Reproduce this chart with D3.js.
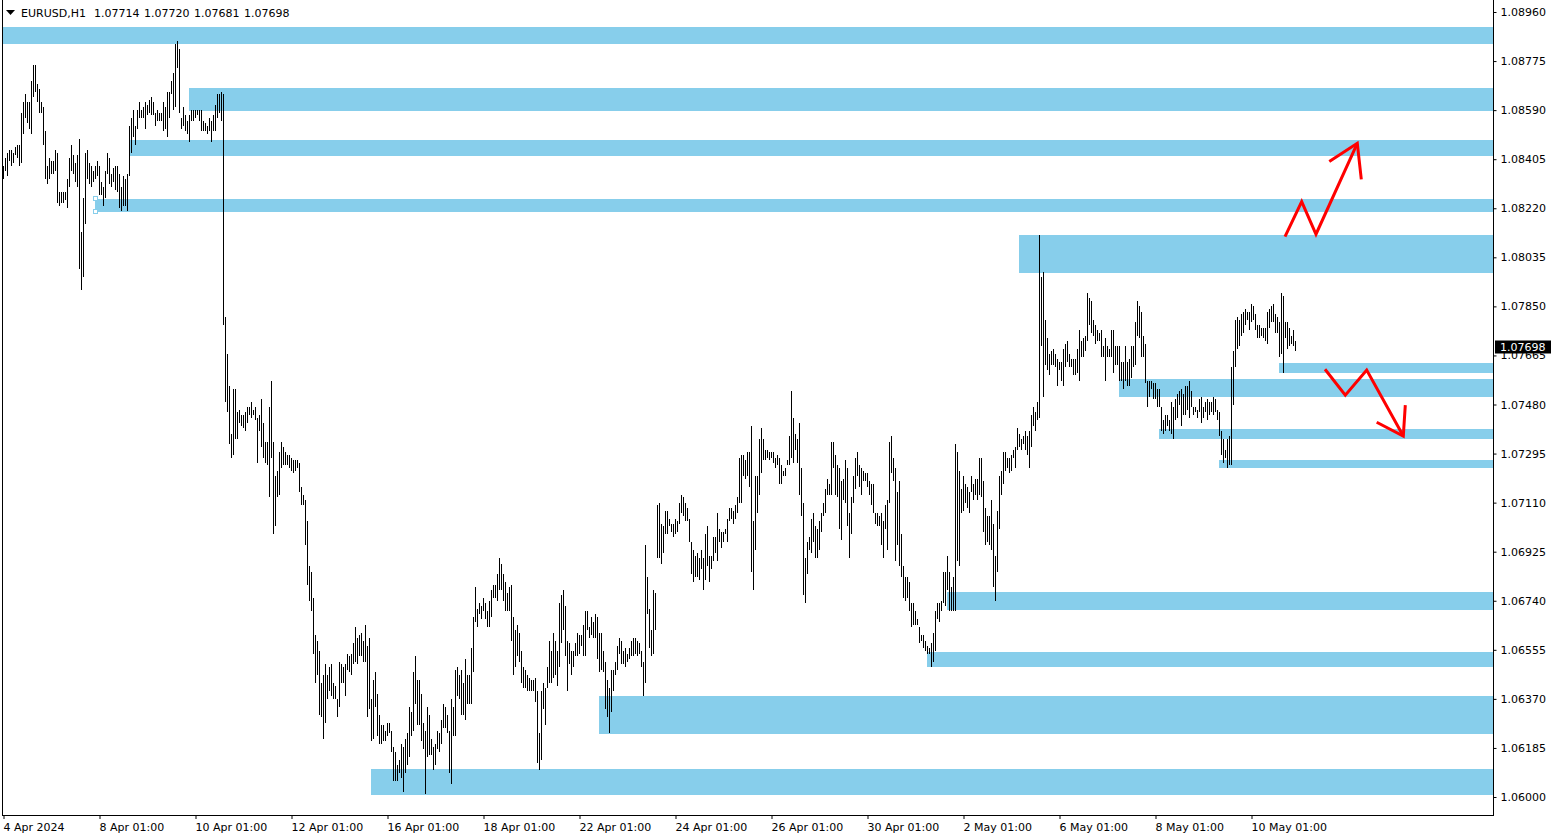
<!DOCTYPE html>
<html><head><meta charset="utf-8">
<script src="https://cdn.jsdelivr.net/npm/d3@7"></script>
<style>html,body{margin:0;padding:0;background:#fff;overflow:hidden}svg text{font-family:"DejaVu Sans",Verdana,sans-serif;font-size:11px}</style>
</head><body><svg id="c" width="1557" height="840"></svg>
<script>
// ---------- data ----------
const symbol = "EURUSD,H1";
const lastOHLC = ["1.07714", "1.07720", "1.07681", "1.07698"];
const lastClose = 1.07698;
const basePrice = 1.06000;           // prices below are in pips above this base
const highPips = [
238,241,243,244,244,243,245,246,246,258, 262,265,262,262,270,276,276,269,267,262,
260,251,238,241,240,240,244,243,228,228, 228,228,233,241,246,242,239,242,248,213,
226,243,244,239,238,236,238,240,238,232, 230,236,243,241,235,237,238,238,235,230,
234,233,235,253,256,259,253,259,262,259, 260,262,261,263,264,262,258,259,258,258,
262,260,266,266,270,273,284,285,282,256, 260,257,255,257,259,259,259,259,259,259,
255,254,253,256,255,257,261,265,265,266, 265,
181,167,155,137,154,154,145,146,144,144, 145,147,147,149,146,147,143,144,150,141,
134,134,147,157,134,121,123,130,134,132, 130,129,129,128,127,127,127,126,117,114, 112,
104,87,85,75,61,59,55,43,46,50, 46,49,50,43,42,37,51,50,49,50,
54,53,54,58,64,60,61,62,59,65, 57,60,37,44,47,39,31,27,27,25,
28,28,25,19,17,12,14,20,19,22, 24,34,32,47,53,44,44,39,28,25,
34,31,22,19,20,25,24,29,35,34, 31,25,37,34,48,49,46,48,43,52,
46,46,56,68,79,71,73,
72,75,73,70,74,78,80,80,84,90, 88,84,81,77,79,80,68,63,65,62,
55,49,48,46,45,44,44,45,40,24, 40,43,41,49,59,55,62,59,55,73,
76,78,72,59,58,55,55,58,62,61, 61,65,70,70,64,68,66,69,68,62,
62,55,51,44,41,48,48,51,57,60, 59,55,56,54,56,59,60,60,59,58,
55,51,95,83,71,63,78,77,110,111,
103,102,108,108,105,103,103,105,104,111, 114,113,111,109,105,96,93,91,92,90,
93,90,99,102,91,91,98,98,107,101, 100,100,101,105,109,109,108,110,113,128,
129,129,127,130,130,140,104,121,121,135, 139,135,131,131,130,130,130,128,129,128,
125,123,124,127,136,153,143,137,135,141, 124,111,90,96,98,105,107,102,101,104,
107,111,116,120,118,134,134,
129,125,124,119,120,127,124,107,113,121, 128,130,125,124,123,122,122,119,118,118,
107,107,106,107,104,110,112,134,136,128, 124,115,119,99,87,83,83,81,73,73,
70,67,64,61,61,59,57,56,58,62, 70,73,73,74,85,85,91,85,79,83, 133,
130,123,116,121,118,117,115,121,118,120, 120,128,128,119,109,106,106,112,103,91,
108,121,123,130,130,128,128,129,131,132, 139,137,135,136,138,136,138,144,147,145,
149,212,196,198,180,173,167,168,169,167, 165,164,164,169,171,172,167,165,165,165,
169,176,172,173,174,190,
188,187,180,178,176,175,176,170,173,170, 169,176,176,170,170,170,164,164,170,164,
165,170,170,179,187,185,183,174,171,157, 157,157,156,156,154,154,147,142,144,144,
142,149,147,150,152,153,154,152,155,155, 157,153,147,147,146,150,151,147,149,150,
149,149,151,150,146,145,138,135,131,135, 136,162,168,180,181,180,182,183,184,183,
183,186,185,182,178,178,177,177,177,183, 184,185,186,182,181,179,190,189,179,179,
177,174,176,172
];
const lowPips = [
233,236,234,240,238,239,242,241,238,239, 250,256,254,252,250,264,266,262,258,258,
246,233,231,233,235,235,236,224,223,224, 224,225,222,230,236,235,232,230,199,191,
196,216,233,231,230,232,233,234,227,227, 223,226,235,231,230,232,229,228,222,221,
223,223,221,234,243,249,246,252,256,256, 256,252,257,258,257,257,253,255,255,255,
251,252,249,256,265,259,260,275,258,252, 253,251,250,247,255,255,256,257,255,251,
251,251,250,251,247,251,251,256,258,255, 178,
149,145,133,128,129,135,135,141,140,139, 138,141,144,143,144,142,126,138,132,128,
126,125,113,128,99,102,113,114,124,125, 125,125,124,123,122,123,124,115,110,110, 95,
80,74,70,54,43,46,31,30,22,28, 37,40,38,37,37,30,34,43,43,38,
48,47,46,50,51,50,53,53,51,51, 30,33,21,22,34,23,20,20,21,21,
23,24,17,6,6,6,9,7,2,9, 12,15,23,25,35,27,27,21,18,1,
15,16,16,10,12,18,17,20,26,26, 24,9,5,23,23,38,37,31,31,29,
35,35,35,47,66,64,69,
67,70,67,64,64,68,75,75,74,78, 78,74,70,70,70,59,46,49,53,51,
43,41,41,40,40,40,40,36,13,10, 14,33,27,41,43,43,45,46,42,49,
58,63,53,40,50,46,49,53,53,54, 57,53,53,63,60,61,60,60,52,47,
48,47,33,30,24,32,40,46,48,54, 50,50,49,51,52,53,53,54,53,54,
49,38,43,69,56,53,54,63,90,90,
88,92,99,99,102,100,98,99,100,103, 107,106,104,104,96,84,81,83,83,82,
86,78,82,87,81,86,89,92,89,96, 94,96,99,96,104,105,103,105,107,111,
111,121,120,121,117,85,78,93,107,114, 122,127,127,128,127,128,126,124,125,118,
118,121,121,125,125,128,126,131,126,114, 106,76,73,84,93,92,96,90,90,93,
100,106,107,114,114,114,124,
114,113,101,97,112,111,102,90,99,111, 116,121,117,114,119,119,117,114,110,107,
103,102,102,95,90,101,93,111,122,119, 89,95,87,83,75,74,75,70,64,65,
65,65,58,59,56,55,54,54,49,51, 55,67,66,70,73,72,78,70,70,70, 70,
89,87,107,108,111,109,107,115,112,114, 112,114,113,100,95,96,95,93,79,74,
85,101,114,118,123,124,122,123,128,124, 131,132,131,133,131,129,124,132,140,138,
142,143,170,151,163,161,159,163,163,162, 155,161,157,155,162,164,162,162,159,159,
160,157,166,166,168,172,
178,175,174,171,172,172,166,166,157,166, 166,166,160,163,163,157,157,154,157,155,
155,158,162,163,174,173,166,166,156,147, 151,154,150,150,147,147,138,137,138,140,
138,137,135,142,143,148,140,144,144,146, 143,147,144,145,143,145,141,143,145,142,
144,145,144,145,142,136,129,126,128,124, 125,125,148,162,169,170,174,175,178,180,
176,179,180,176,173,173,174,173,172,171, 177,179,179,175,175,166,167,160,173,169,
170,171,170,168
];
const dateTickBars = [0,48,96,144,192,240,288,336,384,432,480,528,576,624];
const dateTickLabels = ["4 Apr 2024","8 Apr 01:00","10 Apr 01:00","12 Apr 01:00","16 Apr 01:00",
  "18 Apr 01:00","22 Apr 01:00","24 Apr 01:00","26 Apr 01:00","30 Apr 01:00","2 May 01:00",
  "6 May 01:00","8 May 01:00","10 May 01:00"];
const priceTicks = [1.06000,1.06185,1.06370,1.06555,1.06740,1.06925,1.07110,1.07295,1.07480,
  1.07665,1.07850,1.08035,1.08220,1.08405,1.08590,1.08775,1.08960];
// supply / demand zones: start bar, top price, bottom price (extend to the right edge)
const zoneStartBars = [-2, 93, 63, 46, 508, 638, 558, 578, 608, 472, 462, 298, 184];
const zoneTops    = [1.08904,1.08673,1.08477,1.08255,1.08119,1.07637,1.07576,1.07388,1.07271,1.06773,1.06547,1.06381,1.06106];
const zoneBottoms = [1.08839,1.08588,1.08418,1.08207,1.07977,1.07599,1.07508,1.07350,1.07241,1.06706,1.06490,1.06238,1.06008];
// hand-drawn scenario arrows: [bar, price]
const upPath   = [[640.75,1.08113],[649.1,1.08245],[656.25,1.08122],[676.9,1.08465]];
const upHead   = [[662.9,1.08396],[676.9,1.08465],[678.9,1.08329]];
const downPath = [[660.75,1.07613],[670.9,1.07515],[681.6,1.07610],[699.9,1.07361]];
const downHead = [[686.6,1.07413],[699.9,1.07361],[700.9,1.07478]];
const handleBar = 46;
const handlePrices = [1.08255, 1.08207];

// ---------- drawing ----------
const W = 1557, H = 840;
const plotL = 2.5, plotR = 1493.5, plotB = 815.5;
const svg = d3.select("#c");
svg.append("rect").attr("width", W).attr("height", H).attr("fill", "#fff");

const x = d3.scaleLinear().domain([0, 646]).range([3.5, 1295.5]);
const y = d3.scaleLinear().domain([1.06, 1.0896]).range([797, 12]);
const px = v => basePrice + v / 10000;

svg.append("clipPath").attr("id", "plot").append("rect")
  .attr("x", 3).attr("y", 0).attr("width", plotR - 3.5).attr("height", plotB);
const plot = svg.append("g").attr("clip-path", "url(#plot)");

// zones
plot.selectAll("rect.zone").data(zoneStartBars).enter().append("rect")
  .attr("class", "zone")
  .attr("x", (d) => Math.max(Math.round(x(d) - 0.5), 3))
  .attr("y", (d, i) => Math.round(y(zoneTops[i])))
  .attr("width", (d) => plotR - Math.max(Math.round(x(d) - 0.5), 3))
  .attr("height", (d, i) => Math.round(y(zoneBottoms[i])) - Math.round(y(zoneTops[i])))
  .attr("fill", "#87CEEB");

// bars (high-low)
const bars = highPips.map((h, i) => ({ i, hi: px(h), lo: px(lowPips[i]) }));
plot.append("g").attr("shape-rendering", "crispEdges")
  .selectAll("line").data(bars).enter().append("line")
  .attr("x1", d => x(d.i)).attr("x2", d => x(d.i))
  .attr("y1", d => Math.round(y(d.hi))).attr("y2", d => Math.max(Math.round(y(d.lo)), Math.round(y(d.hi)) + 1))
  .attr("stroke", "#000").attr("stroke-width", 1);

// selection handles
plot.selectAll("rect.handle").data(handlePrices).enter().append("rect")
  .attr("class", "handle")
  .attr("x", Math.round(x(handleBar)) - 2.5).attr("y", d => Math.round(y(d)) - 2.5)
  .attr("width", 4).attr("height", 4)
  .attr("fill", "#fff").attr("stroke", "#87CEEB").attr("stroke-width", 1);

// arrows
const line = d3.line().x(d => x(d[0])).y(d => y(d[1]));
[upPath, upHead, downPath, downHead].forEach(p => {
  plot.append("path").attr("d", line(p)).attr("fill", "none")
    .attr("stroke", "#FF0000").attr("stroke-width", 3)
    .attr("stroke-linejoin", "miter").attr("stroke-linecap", "butt");
});

// frame
const frame = svg.append("g").attr("stroke", "#000").attr("stroke-width", 1).attr("shape-rendering", "crispEdges");
frame.append("line").attr("x1", plotL).attr("x2", plotL).attr("y1", 0).attr("y2", plotB);
frame.append("line").attr("x1", plotR).attr("x2", plotR).attr("y1", 0).attr("y2", plotB);
frame.append("line").attr("x1", plotL).attr("x2", plotR).attr("y1", plotB).attr("y2", plotB);

// right price axis
const yAxis = d3.axisRight(y).tickValues(priceTicks).tickFormat(d3.format(".5f")).tickSize(3).tickPadding(4);
const ya = svg.append("g").attr("transform", `translate(${plotR},0)`).call(yAxis);
ya.select(".domain").remove();
ya.selectAll("text").attr("fill", "#000").style("font-size", "11px").style("font-family", '"DejaVu Sans",sans-serif');
ya.selectAll("line").attr("stroke", "#000");

// current price box (covers the tick label underneath, as in the terminal)
const cy = y(lastClose);
svg.append("rect").attr("x", 1495).attr("y", Math.round(cy) - 6.5).attr("width", 56).attr("height", 13).attr("fill", "#000");
svg.append("text").attr("x", 1500).attr("y", cy).attr("dy", "0.35em").attr("fill", "#fff").text(lastClose.toFixed(5));

// bottom time axis
const xAxis = d3.axisBottom(x).tickValues(dateTickBars).tickFormat((d, i) => dateTickLabels[i]).tickSize(4).tickPadding(4);
const xa = svg.append("g").attr("transform", `translate(0,${plotB - 0.5})`).call(xAxis);
xa.select(".domain").remove();
xa.selectAll("text").attr("text-anchor", "start").attr("x", -0.5).attr("fill", "#000")
  .style("font-size", "11px").style("font-family", '"DejaVu Sans",sans-serif');
xa.selectAll("line").attr("stroke", "#000");

// header
svg.append("path").attr("d", "M6,10 L15,10 L10.5,15 Z").attr("fill", "#000");
svg.append("text").attr("x", 21).attr("y", 16.5).attr("fill", "#000").text(symbol);
svg.append("text").attr("x", 94).attr("y", 16.5).attr("fill", "#000")
  .attr("word-spacing", "1px").text(lastOHLC.join(" "));
</script>
</body></html>
